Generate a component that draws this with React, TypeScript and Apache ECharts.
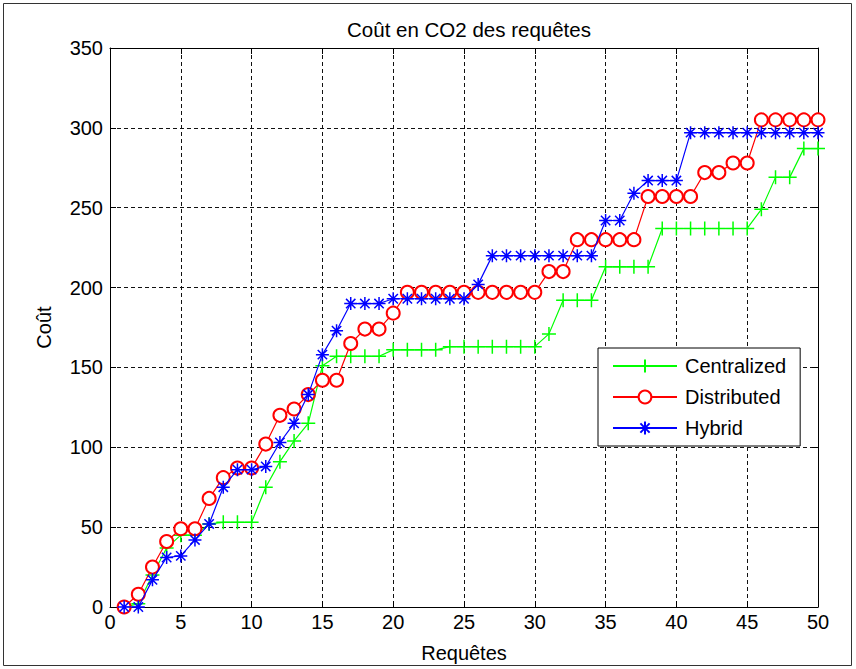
import React, { useEffect, useRef } from "react";
import * as echarts from "echarts";

const requetes = [1,2,3,4,5,6,7,8,9,10,11,12,13,14,15,16,17,18,19,20,21,22,23,24,25,26,27,28,29,30,31,32,33,34,35,36,37,38,39,40,41,42,43,44,45,46,47,48,49,50];
const centralized = [0,2,20,37,45,45,52,53,53,53,75,91,104,115,151,157,157,157,157,161,161,161,161,163,163,163,163,163,163,163,171,192,192,192,213,213,213,213,237,237,237,237,237,237,237,249,269,269,287,287];
const distributed = [0,8,25,41,49,49,68,81,87,87,102,120,124,133,142,142,165,174,174,184,197,197,197,197,197,197,197,197,197,197,210,210,230,230,230,230,230,257,257,257,257,272,272,278,278,305,305,305,305,305];
const hybrid = [0,0,17,31,32,42,52,75,86,86,88,103,115,133,158,173,190,190,190,193,193,193,193,193,193,202,220,220,220,220,220,220,220,220,242,242,259,267,267,267,297,297,297,297,297,297,297,297,297,297];
const seriesNames = ["Centralized", "Distributed", "Hybrid"];
const xTicks = { min: 0, max: 50, interval: 5 };
const yTicks = { min: 0, max: 350, interval: 50 };

const FONT = "Liberation Sans, Arial, sans-serif";
const PLUS = "path://M0,-1L0,1M-1,0L1,0";
const STAR = "path://M0,-1L0,1M-1,0L1,0M-0.72,-0.72L0.72,0.72M-0.72,0.72L0.72,-0.72";

export default function App() {
  const ref = useRef<HTMLDivElement>(null);
  useEffect(() => {
    if (!ref.current) return;
    const chart = echarts.init(ref.current, undefined, { renderer: "svg" });
    const pair = (ys: number[]) => requetes.map((x, i) => [x, ys[i]]);
    const gridLine = { show: true, lineStyle: { color: "#111", type: [4, 3] as any, width: 1 } };
    const axisBase = {
      axisLine: { show: true, onZero: false, lineStyle: { color: "#000", width: 1 } },
      axisTick: { show: true, inside: true, length: 6, lineStyle: { color: "#000" } },
    };
    chart.setOption({
      animation: false,
      backgroundColor: "#fff",
      textStyle: { fontFamily: FONT },
      title: {
        text: "Coût en CO2 des requêtes",
        left: 464,
        textAlign: "center",
        top: 14,
        textStyle: { fontSize: 20.5, fontWeight: "normal", color: "#000", fontFamily: FONT },
      },
      graphic: [
        {
          type: "rect",
          shape: { x: 3.5, y: 3.5, width: 848, height: 662 },
          style: { fill: "none", stroke: "#333", lineWidth: 1 },
          silent: true,
        },
      ],
      grid: { left: 110, right: 38, top: 48, bottom: 62 },
      xAxis: [
        {
          type: "value", ...xTicks, position: "bottom",
          ...axisBase,
          splitLine: gridLine,
          axisLabel: { color: "#000", fontSize: 20, margin: 5, fontFamily: FONT },
          name: "Requêtes", nameLocation: "middle", nameGap: 36,
          nameTextStyle: { color: "#000", fontSize: 20, fontFamily: FONT },
        },
        {
          type: "value", ...xTicks, position: "top",
          ...axisBase,
          splitLine: { show: false },
          axisLabel: { show: false },
        },
      ],
      yAxis: [
        {
          type: "value", ...yTicks, position: "left",
          ...axisBase,
          splitLine: gridLine,
          axisLabel: { color: "#000", fontSize: 20, margin: 7, fontFamily: FONT },
          name: "Coût", nameLocation: "middle", nameGap: 56,
          nameTextStyle: { color: "#000", fontSize: 20, fontFamily: FONT },
        },
        {
          type: "value", ...yTicks, position: "right",
          ...axisBase,
          splitLine: { show: false },
          axisLabel: { show: false },
        },
      ],
      legend: {
        orient: "vertical",
        left: 598,
        top: 348,
        data: seriesNames,
        itemWidth: 64,
        itemHeight: 16,
        itemGap: 11,
        padding: [8, 14, 8, 14],
        borderColor: "#000",
        borderWidth: 1,
        borderRadius: 0,
        backgroundColor: "#fff",
        textStyle: { color: "#000", fontSize: 20, fontFamily: FONT, padding: [0, 0, 0, 3] },
      },
      series: [
        {
          name: seriesNames[0], type: "line", data: pair(centralized),
          symbol: PLUS, symbolSize: 14, showAllSymbol: true,
          lineStyle: { color: "#00ff00", width: 1.2 },
          itemStyle: { color: "#00ff00", borderColor: "#00ff00", borderWidth: 1.5 },
          z: 3,
        },
        {
          name: seriesNames[1], type: "line", data: pair(distributed),
          symbol: "emptyCircle", symbolSize: 13, showAllSymbol: true,
          lineStyle: { color: "#ff0000", width: 1.2 },
          itemStyle: { color: "#ff0000", borderColor: "#ff0000", borderWidth: 1.2 },
          z: 4,
        },
        {
          name: seriesNames[2], type: "line", data: pair(hybrid),
          symbol: STAR, symbolSize: 13, showAllSymbol: true,
          lineStyle: { color: "#0000ff", width: 1.2 },
          itemStyle: { color: "#0000ff", borderColor: "#0000ff", borderWidth: 1.5 },
          z: 5,
        },
      ],
    });
    return () => chart.dispose();
  }, []);
  return (
    <div
      ref={ref}
      style={{ position: "absolute", left: 0, top: 0, width: 856, height: 669 }}
    />
  );
}
